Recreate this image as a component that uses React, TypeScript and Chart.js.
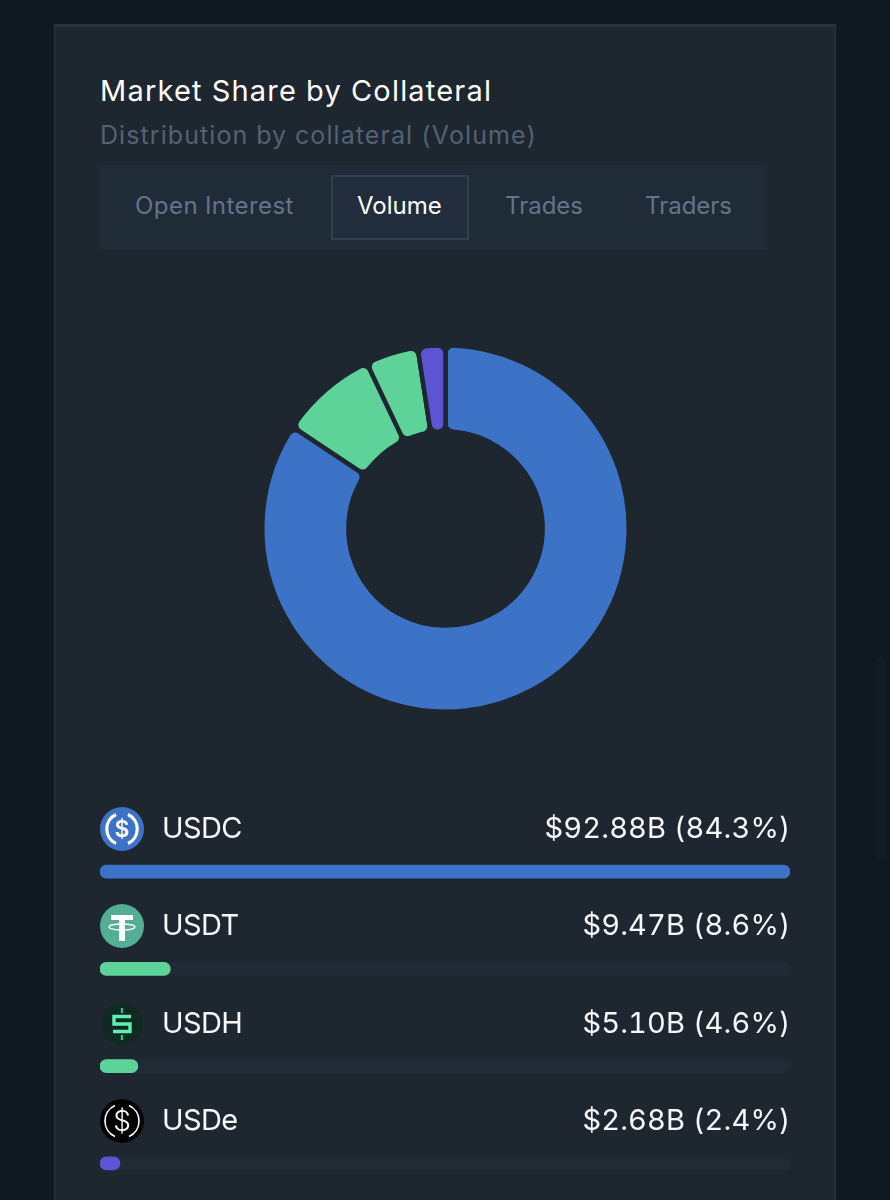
import React, { useEffect, useRef } from 'react';
import Chart from 'chart.js/auto';

const collaterals = ['USDC', 'USDT', 'USDH', 'USDe'];
const volumes = [92.88, 9.47, 5.1, 2.68];
const volumeLabels = ['$92.88B (84.3%)', '$9.47B (8.6%)', '$5.10B (4.6%)', '$2.68B (2.4%)'];
const sliceColors = ['#3d73c6', '#5dd39a', '#5dd39a', '#5b54d3'];
const trackValues = [92.88, 92.88, 92.88, 92.88];
const tabs = ['Open Interest', 'Volume', 'Trades', 'Traders'];

const FONT = 'Inter, "Open Sans", sans-serif';
const PANEL = '#1e2630';

const text = (
	str: string,
	left: number,
	top: number,
	size: number,
	color: string,
	spacing = 0,
	right?: number,
) => (
	<div
		key={str}
		style={{
			position: 'absolute',
			left: right === undefined ? left : undefined,
			right,
			top,
			fontSize: size,
			lineHeight: '40px',
			color,
			letterSpacing: spacing,
			whiteSpace: 'nowrap',
			fontVariantNumeric: 'tabular-nums',
		}}
	>
		{str}
	</div>
);

const icons = [
	<svg key='usdc' width='44' height='44' viewBox='0 0 44 44'>
		<circle cx='22' cy='22' r='22' fill='#3d73c6' />
		<path d='M16 7.5a16 16 0 0 0 0 29M28 7.5a16 16 0 0 1 0 29' fill='none' stroke='#fff' strokeWidth='3.2' />
		<text x='22' y='30' textAnchor='middle' fontSize='23' fontWeight='600' fill='#fff' fontFamily={FONT}>$</text>
	</svg>,
	<svg key='usdt' width='44' height='44' viewBox='0 0 44 44'>
		<circle cx='22' cy='22' r='22' fill='#53ae94' />
		<path d='M11 11h22v5h-8v21h-6V16h-8z' fill='#fff' />
		<ellipse cx='22' cy='23' rx='13' ry='3' fill='none' stroke='#fff' strokeWidth='1.4' />
	</svg>,
	<svg key='usdh' width='44' height='44' viewBox='0 0 44 44'>
		<circle cx='22' cy='22' r='21' fill='#0f2a23' />
		<path d='M31 14.5H14v7.5h16v7.5H13' fill='none' stroke='#5ff0b0' strokeWidth='3.4' />
		<path d='M22 6v5M22 33v5' fill='none' stroke='#5ff0b0' strokeWidth='2.4' opacity='0.7' />
	</svg>,
	<svg key='usde' width='44' height='44' viewBox='0 0 44 44'>
		<circle cx='22' cy='22' r='22' fill='#000' />
		<path d='M15 6.5a17 17 0 0 0 0 31M29 6.5a17 17 0 0 1 0 31' fill='none' stroke='#fff' strokeWidth='1.6' />
		<text x='22' y='32' textAnchor='middle' fontSize='28' fontWeight='300' fill='#fff' fontFamily={FONT}>$</text>
	</svg>,
];

const App: React.FC = () => {
	const donutRef = useRef<HTMLCanvasElement | null>(null);
	const barsRef = useRef<HTMLCanvasElement | null>(null);

	useEffect(() => {
		if (!donutRef.current || !barsRef.current) return;

		const donut = new Chart(donutRef.current, {
			type: 'doughnut',
			data: {
				labels: collaterals,
				datasets: [
					{
						data: volumes,
						backgroundColor: sliceColors,
						// panel coloured border gives the even gaps between slices
						borderColor: PANEL,
						borderWidth: 4.5,
						borderRadius: 8,
					},
				],
			},
			options: {
				animation: false,
				responsive: false,
				cutout: '53%',
				layout: { padding: 0 },
				plugins: { legend: { display: false }, tooltip: { enabled: false } },
			},
		});

		const bars = new Chart(barsRef.current, {
			type: 'bar',
			data: {
				labels: collaterals,
				datasets: [
					{
						data: volumes,
						backgroundColor: sliceColors,
						borderRadius: 7,
						borderSkipped: false,
						barThickness: 13,
						grouped: false,
						order: 1,
					},
					{
						data: trackValues,
						backgroundColor: '#212b36',
						borderRadius: 7,
						borderSkipped: false,
						barThickness: 13,
						grouped: false,
						order: 2,
					},
				],
			},
			options: {
				indexAxis: 'y',
				animation: false,
				responsive: false,
				maintainAspectRatio: false,
				layout: { padding: 0 },
				scales: {
					x: { display: false, min: 0, max: 92.88 },
					y: { display: false },
				},
				plugins: { legend: { display: false }, tooltip: { enabled: false } },
			},
		});

		// Destroy both charts when the component unmounts
		return () => {
			donut.destroy();
			bars.destroy();
		};
	}, []);

	return (
		<div style={{ position: 'fixed', inset: 0, overflow: 'hidden', background: '#101821', fontFamily: FONT }}>
			<div style={{ position: 'absolute', left: 876, top: 657, width: 10, height: 203, background: '#141c26', borderRadius: 5 }} />
			<div
				style={{
					position: 'absolute',
					left: 54,
					top: 24,
					width: 782,
					height: 1190,
					boxSizing: 'border-box',
					background: PANEL,
					border: '1px solid #2a323d',
					borderTopWidth: 3,
				}}
			/>
			{text('Market Share by Collateral', 100, 71, 29, '#ffffff', 1.2)}
			{text('Distribution by collateral (Volume)', 100, 115, 25, '#526274', 1.08)}
			<div style={{ position: 'absolute', left: 99, top: 165, width: 668, height: 84, background: '#1f2b37' }} />
			<div
				style={{
					position: 'absolute',
					left: 331,
					top: 175,
					width: 138,
					height: 65,
					boxSizing: 'border-box',
					background: '#212c3d',
					border: '2px solid #343e50',
				}}
			/>
			{text(tabs[0], 135, 186, 24, '#64748b', 0.45)}
			{text(tabs[1], 357, 186, 24, '#ffffff', 0)}
			{text(tabs[2], 505, 186, 24, '#64748b', 0)}
			{text(tabs[3], 645, 186, 24, '#64748b', 0)}
			<canvas
				ref={donutRef}
				width={371}
				height={371}
				style={{ position: 'absolute', left: 260, top: 343, width: 371, height: 371 }}
			/>
			<canvas
				ref={barsRef}
				width={690}
				height={389}
				style={{ position: 'absolute', left: 100, top: 823, width: 690, height: 389 }}
			/>
			{collaterals.map((name, i) => {
				const rowTop = 808 + i * 97.4;
				return (
					<React.Fragment key={name}>
						<div style={{ position: 'absolute', left: 100, top: rowTop - 1, width: 44, height: 44 }}>{icons[i]}</div>
						{text(name, 162, rowTop, 29, '#f4f6f8', -0.6)}
						{text(volumeLabels[i], 0, rowTop, 29, '#f4f6f8', 0.15, 99.5)}
					</React.Fragment>
				);
			})}
		</div>
	);
};

export default App;
